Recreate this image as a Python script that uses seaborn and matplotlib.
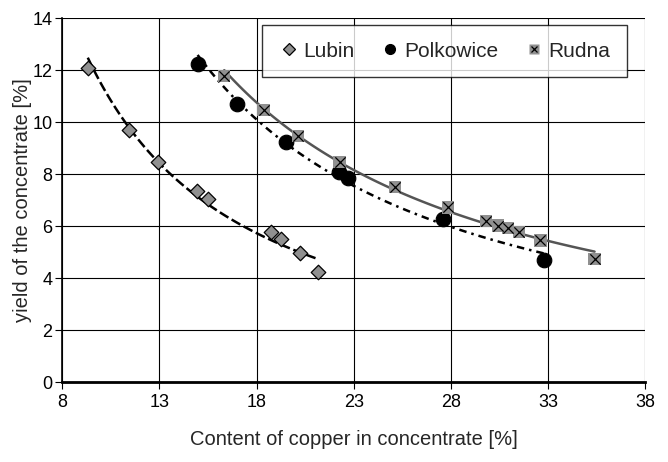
import numpy as np
import pandas as pd
import matplotlib
matplotlib.use("Agg")
import matplotlib.pyplot as plt
from matplotlib.legend_handler import HandlerTuple
from matplotlib.lines import Line2D
import seaborn as sns

# data
lubin_x = [9.32, 11.46, 12.95, 14.93, 15.48, 18.74, 19.27, 20.24, 21.16]
lubin_y = [12.08, 9.70, 8.48, 7.36, 7.04, 5.78, 5.50, 4.96, 4.23]

polk_x = [14.97, 17.02, 19.51, 22.22, 22.69, 27.57, 32.77]
polk_y = [12.23, 10.69, 9.25, 8.07, 7.85, 6.28, 4.70]

rudna_x = [16.34, 18.36, 20.12, 22.27, 25.12, 27.86, 29.81, 30.43, 30.94, 31.49, 32.60, 35.39]
rudna_y = [11.78, 10.46, 9.47, 8.47, 7.50, 6.72, 6.20, 6.02, 5.92, 5.77, 5.45, 4.74]

x_ticks = [8, 13, 18, 23, 28, 33, 38]
y_ticks = [0, 2, 4, 6, 8, 10, 12, 14]


def power_trend(xs, ys):
    # Excel-style power trendline fitted to the points
    b, ln_a = np.polyfit(np.log(xs), np.log(ys), 1)
    xx = np.linspace(min(xs), max(xs), 100)
    return pd.DataFrame({"x": xx, "y": np.exp(ln_a) * xx ** b})


sns.set_style("white")
plt.rcParams["font.family"] = ["Liberation Sans", "DejaVu Sans"]

fig, ax = plt.subplots(figsize=(6.68, 4.62), dpi=100)
fig.subplots_adjust(left=0.093, right=0.966, top=0.961, bottom=0.173)

ax.grid(True, color="black", linewidth=0.8)
ax.set_axisbelow(True)

# trend lines
lt = power_trend(lubin_x, lubin_y)
sns.lineplot(data=lt, x="x", y="y", ax=ax, color="black", linewidth=1.8,
             zorder=3).lines[-1].set_dashes((4, 1.5))
pt = power_trend(polk_x, polk_y)
sns.lineplot(data=pt, x="x", y="y", ax=ax, color="black", linewidth=1.8,
             zorder=3).lines[-1].set_dashes((3, 2, 1, 2))
rt = power_trend(rudna_x, rudna_y)
sns.lineplot(data=rt, x="x", y="y", ax=ax, color="#555555", linewidth=1.8, zorder=3)

# points
sns.scatterplot(x=lubin_x, y=lubin_y, ax=ax, marker="D", s=55, color="#909090",
                edgecolor="black", linewidth=0.9, zorder=4)
sns.scatterplot(x=polk_x, y=polk_y, ax=ax, marker="o", s=110, color="black",
                edgecolor="black", zorder=4)
sns.scatterplot(x=rudna_x, y=rudna_y, ax=ax, marker="s", s=80, color="#909090",
                edgecolor="none", linewidth=0, zorder=4)
sns.scatterplot(x=rudna_x, y=rudna_y, ax=ax, marker="x", s=55, color="black",
                linewidth=0.9, zorder=5)

ax.set_xlim(8, 38)
ax.set_ylim(0, 14)
ax.set_xticks(x_ticks)
ax.set_yticks(y_ticks)
ax.tick_params(axis="both", direction="out", length=5, width=0.8, color="black",
               labelsize=13, labelcolor="black", bottom=True, left=True)
ax.tick_params(axis="y", pad=2)
for side in ["top", "right"]:
    ax.spines[side].set_visible(False)
ax.spines["left"].set_color("black")
ax.spines["left"].set_linewidth(1.2)
ax.spines["bottom"].set_color("black")
ax.spines["bottom"].set_linewidth(2)

ax.set_xlabel("Content of copper in concentrate [%]", fontsize=14.5, labelpad=14)
ax.set_ylabel("yield of the concentrate [%]", fontsize=14.5, labelpad=0)

# legend
h_lub = Line2D([], [], marker="D", linestyle="none", markersize=6,
               markerfacecolor="#909090", markeredgecolor="black", markeredgewidth=0.9)
h_pol = Line2D([], [], marker="o", linestyle="none", markersize=7,
               markerfacecolor="black", markeredgecolor="black")
h_sq = Line2D([], [], marker="s", linestyle="none", markersize=7,
              markerfacecolor="#909090", markeredgecolor="none")
h_x = Line2D([], [], marker="x", linestyle="none", markersize=5,
             color="black", markeredgewidth=0.9)
leg = ax.legend([h_lub, h_pol, (h_sq, h_x)], ["Lubin", "Polkowice", "Rudna"],
                handler_map={tuple: HandlerTuple(ndivide=1)},
                loc="upper right", bbox_to_anchor=(0.969, 0.981), ncol=3,
                fontsize=15, frameon=True, fancybox=False, shadow=False,
                handletextpad=0.2, columnspacing=1.2, handlelength=1.0,
                borderpad=0.8, borderaxespad=0)
leg.get_frame().set_edgecolor("black")
leg.get_frame().set_linewidth(1.0)
leg.set_zorder(10)

fig.savefig("out.png", dpi=100)
